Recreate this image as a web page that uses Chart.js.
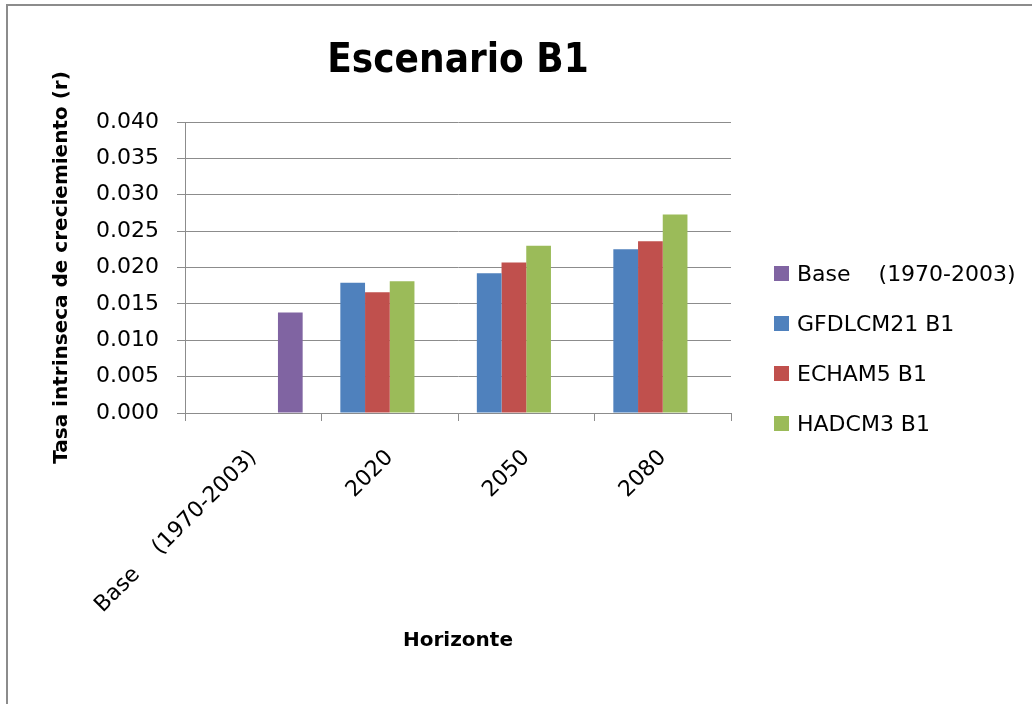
<!DOCTYPE html>
<html>
<head>
<meta charset="utf-8">
<script src="https://cdn.jsdelivr.net/npm/chart.js@4/dist/chart.umd.min.js"></script>
<style>
  body { margin: 0; background: #fff; }
  #wrap { position: relative; width: 1032px; height: 704px; overflow: hidden; }
  #frame {
    position: absolute; left: 6px; top: 4px; width: 1100px; height: 800px;
    border-top: 2px solid #8c8c8c; border-left: 2px solid #8c8c8c;
  }
  #myChart { position: absolute; left: 0; top: 0; }
  #legend {
    position: absolute; left: 774px; top: 248px;
    font-family: 'DejaVu Sans', sans-serif; font-size: 22px; color: #000;
  }
  .legend-item { display: flex; align-items: center; height: 50px; white-space: pre; }
  .legend-box { width: 15px; height: 15px; margin-right: 8px; }
</style>
</head>
<body>
<div id="wrap">
  <div id="frame"></div>
  <canvas id="myChart" width="1032" height="704"></canvas>
  <div id="legend"></div>
</div>
<script>
// periods on the x axis
const horizons = ["Base    (1970-2003)", "2020", "2050", "2080"];

// growth rate per model
const baseValues = [0.0138, null, null, null];
const gfdlValues = [null, 0.0179, 0.0192, 0.0225];
const echamValues = [null, 0.0166, 0.0207, 0.0236];
const hadcmValues = [null, 0.0181, 0.0230, 0.0273];

const yTicks = [0, 0.005, 0.01, 0.015, 0.02, 0.025, 0.03, 0.035, 0.04];

const font = "'DejaVu Sans', sans-serif";
const gridGray = "#8c8c8c";

// base series is drawn in the last slot but listed first
const legendRank = (item) => (item.text.indexOf("Base") === 0 ? -1 : item.datasetIndex);

// legend as html, built from the chart's own legend items
const htmlLegend = {
  id: "htmlLegend",
  afterUpdate(chart) {
    const box = document.getElementById("legend");
    box.innerHTML = "";
    const items = Chart.defaults.plugins.legend.labels.generateLabels(chart);
    items.sort((a, b) => legendRank(a) - legendRank(b));
    items.forEach((item) => {
      const row = document.createElement("div");
      row.className = "legend-item";
      const swatch = document.createElement("span");
      swatch.className = "legend-box";
      swatch.style.background = item.fillStyle;
      const text = document.createElement("span");
      text.textContent = item.text;
      row.appendChild(swatch);
      row.appendChild(text);
      box.appendChild(row);
    });
  },
};

const ctx = document.getElementById("myChart").getContext("2d");

const chart = new Chart(ctx, {
  type: "bar",
  data: {
    labels: horizons,
    datasets: [
      { label: "GFDLCM21 B1", data: gfdlValues, backgroundColor: "#4f81bd" },
      { label: "ECHAM5 B1", data: echamValues, backgroundColor: "#c0504d" },
      { label: "HADCM3 B1", data: hadcmValues, backgroundColor: "#9bbb59" },
      { label: "Base    (1970-2003)", data: baseValues, backgroundColor: "#8064a2" },
    ],
  },
  plugins: [htmlLegend],
  options: {
    responsive: false,
    animation: false,
    devicePixelRatio: 1,
    categoryPercentage: 0.724,
    barPercentage: 1,
    layout: { padding: { top: 10, left: 46, right: 301, bottom: 18 } },
    plugins: {
      tooltip: { enabled: false },
      legend: { display: false },
      title: {
        display: true,
        text: "Escenario B1",
        fullSize: false,
        color: "#000",
        font: { family: "'DejaVu Sans Condensed', 'DejaVu Sans', sans-serif", size: 40, weight: "bold" },
        padding: { top: 28, bottom: 36 },
      },
    },
    scales: {
      x: {
        grid: {
          offset: true,
          drawOnChartArea: false,
          drawTicks: true,
          tickLength: 8,
          color: gridGray,
        },
        border: { display: true, color: gridGray },
        ticks: {
          color: "#000",
          font: { family: font, size: 22 },
          minRotation: 45,
          maxRotation: 45,
          autoSkip: false,
          padding: 24,
        },
        title: {
          display: true,
          text: "Horizonte",
          color: "#000",
          font: { family: font, size: 20, weight: "bold" },
          padding: { top: 4, bottom: 33 },
        },
        afterFit: (scale) => {
          scale.height = 273;
        },
      },
      y: {
        min: 0,
        max: 0.04,
        grid: { color: gridGray, tickLength: 8 },
        border: { display: true, color: gridGray },
        afterBuildTicks: (scale) => {
          scale.ticks = yTicks.map((v) => ({ value: v }));
        },
        ticks: {
          color: "#000",
          font: { family: font, size: 22 },
          padding: 18,
          callback: (v) => Number(v).toFixed(3),
        },
        title: {
          display: true,
          text: "Tasa intrinseca de creciemiento (r)",
          color: "#000",
          font: { family: font, size: 20, weight: "bold" },
          padding: { top: 4, bottom: 4 },
        },
        afterFit: (scale) => {
          scale.width = 139;
        },
      },
    },
  },
});
</script>
</body>
</html>
